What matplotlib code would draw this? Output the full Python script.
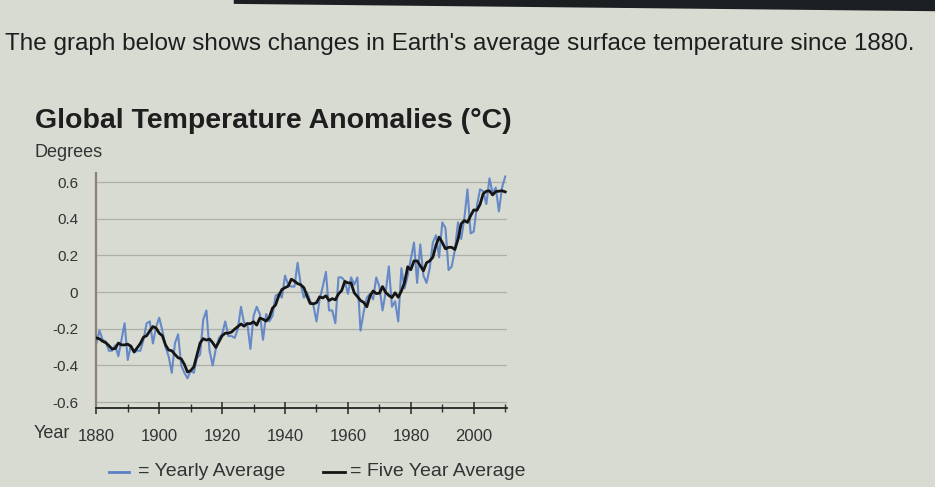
import matplotlib
matplotlib.use("Agg")
import matplotlib.pyplot as plt
from matplotlib.lines import Line2D
from matplotlib.patches import Polygon
import pandas as pd

# yearly global temperature anomalies (deg C)
years = list(range(1880, 2011))
yearly = [
    -0.28, -0.21, -0.26, -0.27, -0.32, -0.32, -0.29, -0.35, -0.26, -0.17,
    -0.37, -0.29, -0.33, -0.32, -0.32, -0.26, -0.17, -0.16, -0.28, -0.19,
    -0.14, -0.21, -0.30, -0.35, -0.44, -0.28, -0.23, -0.40, -0.44, -0.47,
    -0.43, -0.44, -0.36, -0.34, -0.15, -0.10, -0.32, -0.40, -0.31, -0.25,
    -0.23, -0.16, -0.24, -0.24, -0.25, -0.20, -0.08, -0.17, -0.17, -0.31,
    -0.13, -0.08, -0.12, -0.26, -0.12, -0.16, -0.13, -0.02, -0.01, -0.03,
    0.09, 0.04, 0.03, 0.03, 0.16, 0.04, -0.03, 0.00, -0.05, -0.07,
    -0.16, -0.04, 0.03, 0.11, -0.10, -0.10, -0.17, 0.08, 0.08, 0.06,
    -0.01, 0.08, 0.04, 0.08, -0.21, -0.11, -0.03, -0.01, -0.04, 0.08,
    0.03, -0.10, 0.00, 0.14, -0.08, -0.05, -0.16, 0.13, 0.02, 0.09,
    0.18, 0.27, 0.05, 0.26, 0.09, 0.05, 0.13, 0.27, 0.31, 0.19,
    0.38, 0.35, 0.12, 0.14, 0.23, 0.38, 0.29, 0.40, 0.56, 0.32,
    0.33, 0.47, 0.56, 0.55, 0.48, 0.62, 0.54, 0.57, 0.44, 0.57,
    0.63,
]
# black line = five year running mean of the yearly values
five_year = pd.Series(yearly).rolling(5, center=True, min_periods=3).mean()

y_ticks = [0.6, 0.4, 0.2, 0, -0.2, -0.4, -0.6]
y_labels = ["0.6", "0.4", "0.2", "0", "-0.2", "-0.4", "-0.6"]
x_major = [1880, 1900, 1920, 1940, 1960, 1980, 2000]

bg = "#d7dbd2"
plt.rcParams["font.family"] = ["Liberation Sans", "DejaVu Sans"]

fig = plt.figure(figsize=(9.35, 4.87), dpi=100, facecolor=bg)

# dark strip along the top (edge of the screen in the photo)
fig.patches.append(Polygon([(0.25, 1.0), (1.0, 1.0), (1.0, 0.977), (0.25, 0.992)],
                           closed=True, transform=fig.transFigure,
                           facecolor="#1c1f22", edgecolor="none"))

ax = fig.add_axes([0.103, 0.163, 0.439, 0.482])
ax.set_facecolor(bg)
ax.set_xlim(1880, 2010.5)
ax.set_ylim(-0.63, 0.65)

for v in y_ticks:
    ax.axhline(v, color="#adb0a8", lw=0.9, zorder=1)

ax.plot(years, yearly, color="#5a80c6", lw=1.5, alpha=0.9, zorder=2)
ax.plot(years, five_year, color="#151515", lw=2.0, zorder=3)

for s in ["top", "right"]:
    ax.spines[s].set_visible(False)
ax.spines["left"].set_color("#8c8174")
ax.spines["left"].set_linewidth(1.6)
ax.spines["bottom"].set_color("#222222")
ax.spines["bottom"].set_linewidth(1.3)

ax.set_yticks(y_ticks)
ax.set_yticklabels(y_labels)
ax.tick_params(axis="y", length=0, pad=13, labelsize=11, labelcolor="#333333")

ax.set_xticks(x_major)
ax.set_xticks(range(1890, 2011, 20), minor=True)
ax.tick_params(axis="x", which="major", direction="inout", length=9, width=1.2,
               color="#333333", pad=11, labelsize=12, labelcolor="#333333")
ax.tick_params(axis="x", which="minor", direction="inout", length=6, width=1.0,
               color="#333333")

fig.text(0.005, 1 - 50 / 487, "The graph below shows changes in Earth's average surface temperature since 1880.",
         fontsize=17.5, color="#1e1e1e", va="baseline", ha="left")
fig.text(0.037, 1 - 128 / 487, "Global Temperature Anomalies (°C)", fontsize=20.5,
         fontweight="bold", color="#1e1e1e", va="baseline", ha="left")
fig.text(0.037, 1 - 153 / 487, "Degrees", fontsize=13, color="#333333", va="center", ha="left")
fig.text(0.036, 1 - 434 / 487, "Year", fontsize=13, color="#333333", va="center", ha="left")

# legend row
fig.lines.append(Line2D([109 / 935, 129 / 935], [0.031, 0.031], color="#5a80c6", lw=2,
                        transform=fig.transFigure))
fig.text(138 / 935, 0.031, "= Yearly Average", fontsize=14, color="#333333", va="center")
fig.lines.append(Line2D([323 / 935, 345 / 935], [0.031, 0.031], color="#151515", lw=2,
                        transform=fig.transFigure))
fig.text(350 / 935, 0.031, "= Five Year Average", fontsize=14, color="#333333", va="center")

fig.savefig("out.png", dpi=100, facecolor=bg)
